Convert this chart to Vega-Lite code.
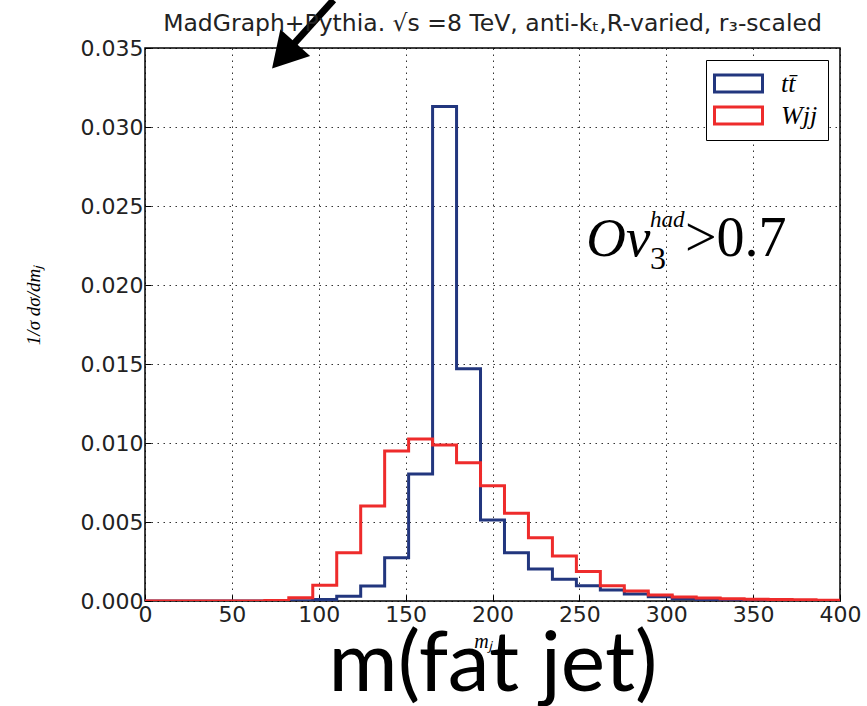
{
  "$schema": "https://vega.github.io/schema/vega-lite/v6.json",
  "width": 695,
  "height": 553,
  "autosize": {"type": "none"},
  "padding": {"left": 145, "top": 48, "right": 27, "bottom": 105},
  "background": "white",
  "config": {"view": {"stroke": "black", "strokeWidth": 1.5}, "font": "DejaVu Sans"},
  "title": {"text": "MadGraph+Pythia. √s =8 TeV, anti-kₜ,R-varied, r₃-scaled", "font": "DejaVu Sans", "fontSize": 23.5, "fontWeight": "normal", "offset": -58, "baseline": "alphabetic", "anchor": "middle", "color": "#222222"},
  "layer": [
    {
      "data": {"values": [
        {"series": "tt̄", "x": 0, "y": 0},
        {"series": "tt̄", "x": 13.793, "y": 0},
        {"series": "tt̄", "x": 27.586, "y": 0},
        {"series": "tt̄", "x": 41.379, "y": 0},
        {"series": "tt̄", "x": 55.172, "y": 0},
        {"series": "tt̄", "x": 68.966, "y": 0},
        {"series": "tt̄", "x": 82.759, "y": 0.00002},
        {"series": "tt̄", "x": 96.552, "y": 0.0001},
        {"series": "tt̄", "x": 110.345, "y": 0.0003},
        {"series": "tt̄", "x": 124.138, "y": 0.00095},
        {"series": "tt̄", "x": 137.931, "y": 0.00274},
        {"series": "tt̄", "x": 151.724, "y": 0.00804},
        {"series": "tt̄", "x": 165.517, "y": 0.0313},
        {"series": "tt̄", "x": 179.31, "y": 0.0147},
        {"series": "tt̄", "x": 193.103, "y": 0.00513},
        {"series": "tt̄", "x": 206.897, "y": 0.00306},
        {"series": "tt̄", "x": 220.69, "y": 0.00203},
        {"series": "tt̄", "x": 234.483, "y": 0.00138},
        {"series": "tt̄", "x": 248.276, "y": 0.00097},
        {"series": "tt̄", "x": 262.069, "y": 0.0007},
        {"series": "tt̄", "x": 275.862, "y": 0.00044},
        {"series": "tt̄", "x": 289.655, "y": 0.00027},
        {"series": "tt̄", "x": 303.448, "y": 0.00015},
        {"series": "tt̄", "x": 317.241, "y": 0.0001},
        {"series": "tt̄", "x": 331.034, "y": 0.00007},
        {"series": "tt̄", "x": 344.828, "y": 0.00005},
        {"series": "tt̄", "x": 358.621, "y": 0.00003},
        {"series": "tt̄", "x": 372.414, "y": 0.00002},
        {"series": "tt̄", "x": 386.207, "y": 0.00001},
        {"series": "tt̄", "x": 400, "y": 0},
        {"series": "Wjj", "x": 0, "y": 0},
        {"series": "Wjj", "x": 13.793, "y": 0},
        {"series": "Wjj", "x": 27.586, "y": 0},
        {"series": "Wjj", "x": 41.379, "y": 0},
        {"series": "Wjj", "x": 55.172, "y": 0},
        {"series": "Wjj", "x": 68.966, "y": 0.00003},
        {"series": "Wjj", "x": 82.759, "y": 0.0002},
        {"series": "Wjj", "x": 96.552, "y": 0.001},
        {"series": "Wjj", "x": 110.345, "y": 0.00306},
        {"series": "Wjj", "x": 124.138, "y": 0.00601},
        {"series": "Wjj", "x": 137.931, "y": 0.00949},
        {"series": "Wjj", "x": 151.724, "y": 0.01025},
        {"series": "Wjj", "x": 165.517, "y": 0.00987},
        {"series": "Wjj", "x": 179.31, "y": 0.00875},
        {"series": "Wjj", "x": 193.103, "y": 0.0073},
        {"series": "Wjj", "x": 206.897, "y": 0.00555},
        {"series": "Wjj", "x": 220.69, "y": 0.004},
        {"series": "Wjj", "x": 234.483, "y": 0.00285},
        {"series": "Wjj", "x": 248.276, "y": 0.00186},
        {"series": "Wjj", "x": 262.069, "y": 0.00097},
        {"series": "Wjj", "x": 275.862, "y": 0.00063},
        {"series": "Wjj", "x": 289.655, "y": 0.00038},
        {"series": "Wjj", "x": 303.448, "y": 0.00025},
        {"series": "Wjj", "x": 317.241, "y": 0.00019},
        {"series": "Wjj", "x": 331.034, "y": 0.00015},
        {"series": "Wjj", "x": 344.828, "y": 0.00011},
        {"series": "Wjj", "x": 358.621, "y": 0.0001},
        {"series": "Wjj", "x": 372.414, "y": 0.00008},
        {"series": "Wjj", "x": 386.207, "y": 0.00005},
        {"series": "Wjj", "x": 400, "y": 0}
      ]},
      "mark": {"type": "line", "interpolate": "step-after", "strokeWidth": 3, "clip": true},
      "encoding": {
        "x": {"field": "x", "type": "quantitative",
          "scale": {"domain": [0, 400], "nice": false, "zero": false},
          "axis": {"values": [0, 50, 100, 150, 200, 250, 300, 350, 400], "title": "m(fat jet)", "titleFont": "Lato", "titleFontSize": 84, "titleFontWeight": "normal", "titleColor": "black", "titleBaseline": "alphabetic", "titleY": 89,
            "labelFont": "DejaVu Sans", "labelFontSize": 22, "labelColor": "#222222", "labelPadding": 9, "labelFlush": false, "tickSize": -6, "tickColor": "black", "domain": false, "grid": true, "gridColor": "black", "gridDash": [1.5, 4.5], "gridOpacity": 0.8}},
        "y": {"field": "y", "type": "quantitative",
          "scale": {"domain": [0, 0.035], "nice": false},
          "axis": {"values": [0, 0.005, 0.01, 0.015, 0.02, 0.025, 0.03, 0.035], "format": ".3f", "title": "1/σ   dσ/dmⱼ", "titleFont": "Liberation Serif", "titleFontStyle": "italic", "titleFontWeight": "normal", "titleFontSize": 19, "titleColor": "black", "titleX": -102, "titleY": 257,
            "labelFont": "DejaVu Sans", "labelFontSize": 22, "labelColor": "#222222", "labelPadding": 8, "labelFlush": false, "tickSize": -6, "tickColor": "black", "domain": false, "grid": true, "gridColor": "black", "gridDash": [1.5, 4.5], "gridOpacity": 0.8}},
        "color": {"field": "series", "type": "nominal",
          "scale": {"domain": ["tt̄", "Wjj"], "range": ["#22367e", "#ee2b2b"]},
          "legend": {"orient": "top-right", "offset": 12, "title": null, "symbolType": "M-2,-0.7H2V0.7H-2Z", "symbolSize": 576, "symbolStrokeWidth": 3, "symbolFillColor": "white", "labelFont": "Liberation Serif", "labelFontStyle": "italic", "labelFontSize": 26, "labelColor": "black", "strokeColor": "black", "fillColor": "white", "padding": 10, "rowPadding": 3, "labelOffset": 29, "symbolOffset": 9}}
      }
    },
    {
      "data": {"values": [{"note": "Ov"}]},
      "mark": {"type": "text", "text": "Ov", "font": "Liberation Serif", "fontStyle": "italic", "fontSize": 55, "align": "left", "baseline": "alphabetic", "color": "black"},
      "encoding": {"x": {"datum": 254}, "y": {"datum": 0.02185}}
    },
    {
      "data": {"values": [{"note": "3"}]},
      "mark": {"type": "text", "text": "3", "font": "Liberation Serif", "fontSize": 32, "align": "left", "baseline": "alphabetic", "color": "black"},
      "encoding": {"x": {"datum": 290.6}, "y": {"datum": 0.02103}}
    },
    {
      "data": {"values": [{"note": "had"}]},
      "mark": {"type": "text", "text": "had", "font": "Liberation Serif", "fontStyle": "italic", "fontSize": 23, "align": "left", "baseline": "alphabetic", "color": "black"},
      "encoding": {"x": {"datum": 290.6}, "y": {"datum": 0.02369}}
    },
    {
      "data": {"values": [{"note": ">0.7"}]},
      "mark": {"type": "text", "text": ">0.7", "font": "Liberation Serif", "fontSize": 56, "align": "left", "baseline": "alphabetic", "color": "black"},
      "encoding": {"x": {"datum": 310.8}, "y": {"datum": 0.02185}}
    },
    {
      "data": {"values": [{"note": "mj"}]},
      "mark": {"type": "text", "text": "mⱼ", "font": "Liberation Serif", "fontStyle": "italic", "fontSize": 20, "align": "center", "baseline": "alphabetic", "color": "black"},
      "encoding": {"x": {"datum": 194.5}, "y": {"datum": -0.00295}}
    },
    {
      "data": {"values": [{"note": "arrow"}]},
      "mark": {"type": "rule", "strokeWidth": 7, "color": "black", "strokeCap": "butt"},
      "encoding": {"x": {"datum": 108.5}, "y": {"datum": 0.038038}, "x2": {"datum": 86.0}, "y2": {"datum": 0.0353}}
    },
    {
      "data": {"values": [{"note": "arrowhead"}]},
      "mark": {"type": "point", "shape": "triangle-up", "filled": true, "color": "black", "opacity": 1, "size": 1600, "angle": 222},
      "encoding": {"x": {"datum": 79.8}, "y": {"datum": 0.03452}}
    }
  ]
}
